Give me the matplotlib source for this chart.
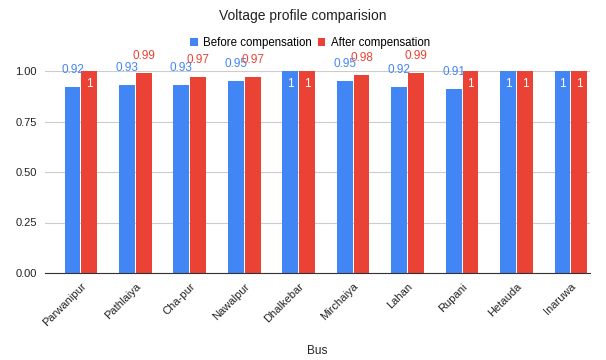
import matplotlib.pyplot as plt
import numpy as np

buses = ["Parwanipur", "Pathlaiya", "Cha-pur", "Nawalpur", "Dhalkebar",
         "Mirchaiya", "Lahan", "Rupani", "Hetauda", "Inaruwa"]
before = [0.92, 0.93, 0.93, 0.95, 1, 0.95, 0.92, 0.91, 1, 1]
after = [1, 0.99, 0.97, 0.97, 1, 0.98, 0.99, 1, 1, 1]
yticks = [0.00, 0.25, 0.50, 0.75, 1.00]

BLUE = "#4285F4"
RED = "#EA4335"

plt.rcParams["font.family"] = ["Liberation Sans", "DejaVu Sans"]

fig = plt.figure(figsize=(6.06, 3.6), dpi=100)
ax = fig.add_axes([45 / 606, 1 - 273 / 360, 545 / 606, 202 / 360])

x = np.arange(len(buses))
w = 0.29
b1 = ax.bar(x - w / 2 - 0.01, before, w, color=BLUE, label="Before compensation", zorder=3)
b2 = ax.bar(x + w / 2 + 0.01, after, w, color=RED, label="After compensation", zorder=3)


def fmt(v):
    return "1" if v == 1 else f"{v:.2f}"


for bars, vals, col in [(b1, before, BLUE), (b2, after, RED)]:
    for rect, v in zip(bars, vals):
        cx = rect.get_x() + rect.get_width() / 2
        if v == 1:
            ax.text(cx, v - 0.035, fmt(v), ha="center", va="top", color="white",
                    fontsize=8.5, zorder=4)
        else:
            ax.text(cx, v + 0.055, fmt(v), ha="center", va="bottom", color=col,
                    fontsize=8.5, zorder=4, clip_on=False)

ax.set_xlim(-0.66, 9.35)
ax.set_ylim(0, 1.0)
ax.set_yticks(yticks)
ax.set_yticklabels([f"{t:.2f}" for t in yticks], fontsize=8, color="#222222")
ax.set_xticks(x)
ax.set_xticklabels(buses, rotation=45, ha="right", rotation_mode="anchor",
                   fontsize=8, color="#222222")
ax.tick_params(length=0, pad=6)
ax.grid(axis="y", color="#CCCCCC", lw=0.8, zorder=0)
for s in ["top", "right", "left"]:
    ax.spines[s].set_visible(False)
ax.spines["bottom"].set_color("#333333")
ax.spines["bottom"].set_zorder(5)

ax.set_xlabel("Bus", fontsize=8.5, color="#222222", labelpad=12)
fig.text(0.5, 1 - 16 / 360, "Voltage profile comparision", ha="center",
         va="center", fontsize=10, color="#222222")
fig.legend(loc="center", bbox_to_anchor=(0.512, 1 - 43 / 360), ncol=2,
           frameon=False, fontsize=8.3, handlelength=0.65, handleheight=0.65,
           handletextpad=0.5, columnspacing=0.5)

fig.savefig("out.png", dpi=100)
